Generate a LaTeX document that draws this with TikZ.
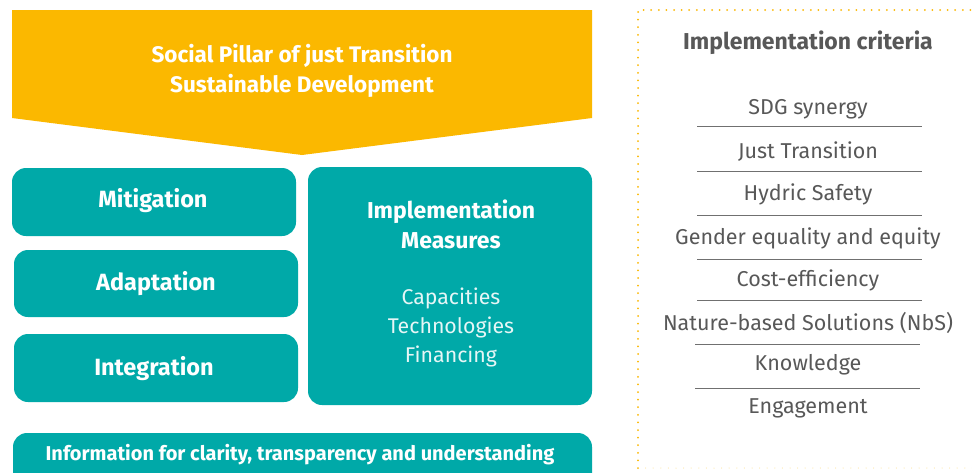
\documentclass[tikz,border=0pt]{standalone}
\usepackage{fontspec}
\setmainfont{Fira Sans}
\usetikzlibrary{positioning}
\definecolor{teal1}{HTML}{00A9A8}
\definecolor{yel}{HTML}{FBB800}
\definecolor{txtgray}{HTML}{585858}
\definecolor{linegray}{HTML}{707070}
\definecolor{lightw}{HTML}{E6F6F6}
\tikzset{
  tbox/.style={fill=teal1, rounded corners=14pt, draw=none},
  btext/.style={text=white, font=\fontsize{23}{30}\selectfont\bfseries, align=center},
  ctext/.style={text=txtgray, font=\fontsize{21.5}{24}\selectfont, anchor=center},
  sepline/.style={draw=linegray, line width=0.9pt},
}
\begin{document}
\begin{tikzpicture}[x=1pt,y=-1pt]
\clip (0,0) rectangle (972,472);
\fill[white] (0,0) rectangle (972,472);
% yellow pentagon
\fill[yel] (12,10) -- (592,10) -- (592,118) -- (302,155) -- (12,118) -- cycle;
\node[btext, font=\fontsize{22.5}{30}\selectfont\bfseries] (title) at (302,71) {Social Pillar of just Transition\\Sustainable Development};
% boxes
\fill[tbox] (12,168) rectangle (296,236);
\node[btext, font=\fontsize{23.5}{30}\selectfont\bfseries] (mit) at (153,201) {Mitigation};
\fill[tbox] (14,250) rectangle (298,317);
\node[btext, font=\fontsize{23.5}{30}\selectfont\bfseries] (ada) at (156,284) {Adaptation};
\fill[tbox] (14,334) rectangle (298,402);
\node[btext, font=\fontsize{23.5}{30}\selectfont\bfseries] (int) at (154,369) {Integration};
\fill[tbox] (308,167) rectangle (592,405);
\node[btext] (imp) at (451,224) {Implementation\\Measures};
\node[text=lightw, font=\fontsize{21.3}{29}\selectfont, align=center] (cap) at (451,327) {Capacities\\Technologies\\Financing};
\fill[tbox] (13,433) rectangle (592,490);
\node[btext, font=\fontsize{20}{24}\selectfont\bfseries] (info) at (300,455) {Information for clarity, transparency and understanding};
% dotted box
\draw[yel, line width=2pt, line cap=round, dash pattern=on 0pt off 7.6pt] (638,468) -- (638,10) -- (990,10);
\draw[yel!50, line width=1pt, line cap=round, dash pattern=on 0pt off 7.6pt] (638,468) -- (990,468);
\node[ctext, font=\fontsize{23}{26}\selectfont\bfseries] (crit) at (808,43) {Implementation criteria};
\node[ctext] (c1) at (808,109) {SDG synergy};
\node[ctext] (c2) at (808,152) {Just Transition};
\node[ctext] (c3) at (808,194) {Hydric Safety};
\node[ctext] (c4) at (808,238) {Gender equality and equity};
\node[ctext] (c5) at (808,280) {Cost-efficiency};
\node[ctext] (c6) at (808,323) {Nature-based Solutions (NbS)};
\node[ctext] (c7) at (808,365) {Knowledge};
\node[ctext] (c8) at (808,408) {Engagement};
\draw[sepline] (697,126) -- (922,126);
\draw[sepline] (697,171) -- (922,171);
\draw[sepline] (697,215) -- (922,215);
\draw[sepline] (697,259) -- (922,259);
\draw[sepline] (697,300) -- (922,300);
\draw[sepline] (695,344) -- (920,344);
\draw[sepline] (695,388) -- (920,388);
\end{tikzpicture}
\end{document}
